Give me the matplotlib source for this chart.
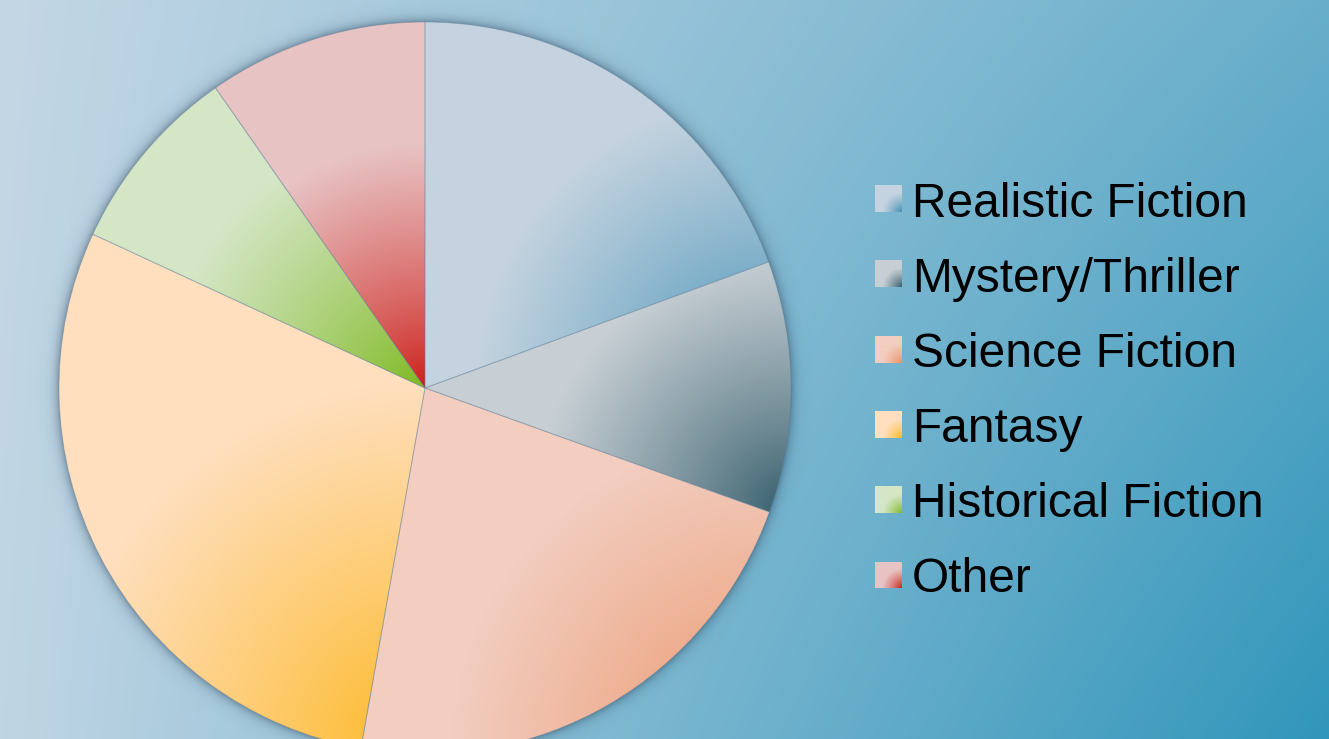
import numpy as np
import matplotlib
matplotlib.use("Agg")
import matplotlib.pyplot as plt
from matplotlib.colors import to_rgb

# chart data
genres = ["Realistic Fiction", "Mystery/Thriller", "Science Fiction",
          "Fantasy", "Historical Fiction", "Other"]
shares = [19.4, 11.1, 22.3, 29.1, 8.4, 9.7]
light_colors = ["#c4d3df", "#c7cfd4", "#f2cdc0", "#ffdfbe", "#d5e6c7", "#e8c3c4"]
dark_colors = ["#3a8db5", "#2d5766", "#eb8f5e", "#fdb515", "#7bb81a", "#cc1a14"]

W, H = 1329, 739
fig = plt.figure(figsize=(W / 100, H / 100), dpi=100)
ax = fig.add_axes([0, 0, 1, 1])


def corner_gradient(light, dark, dist, reach):
    # dark at the corner, fading to light further out
    t = np.clip(dist / reach, 0, 1)[..., None] ** 0.8
    lo, hi = np.array(to_rgb(dark)), np.array(to_rgb(light))
    return lo + (hi - lo) * t


# background: bilinear blend of corner weights
bg_a, bg_b = np.array(to_rgb("#c4d7e5")), np.array(to_rgb("#3196bb"))
u = np.linspace(0, 1, 400)[None, :]
v = np.linspace(0, 1, 240)[:, None]  # 0 = top
w_tl, w_tr, w_bl, w_br = 0.0, 0.62, 0.03, 1.0
t = (w_tl * (1 - u) * (1 - v) + w_tr * u * (1 - v)
     + w_bl * (1 - u) * v + w_br * u * v)
bg = bg_a + (bg_b - bg_a) * t[..., None]
ax.imshow(bg, extent=(0, W, 0, H), origin="upper", aspect="auto", zorder=0)

# pie
cx, cy, R = 425, H - 388, 366
wedges, _ = ax.pie(shares, startangle=90, counterclock=False, radius=R,
                   center=(cx, cy), frame=True,
                   wedgeprops=dict(linewidth=0.7,
                                   edgecolor=(0.4, 0.5, 0.6, 0.35),
                                   facecolor="none", zorder=3))

# soft shadow round the pie
gx, gy = np.meshgrid(np.arange(cx - R - 30, cx + R + 30),
                     np.arange(cy - R - 30, cy + R + 30))
d = np.hypot(gx + 0.5 - cx, gy + 0.5 - cy)
shadow = np.zeros(d.shape + (4,))
shadow[..., :3] = (0.12, 0.22, 0.32)
shadow[..., 3] = np.where(d >= R - 1, 0.4 * np.exp(-(d - R) / 5.0), 0)
ax.imshow(shadow, extent=(cx - R - 30, cx + R + 30, cy - R - 30, cy + R + 30),
          origin="lower", zorder=1)

# gradient fill per wedge, dark at the lower right corner of its box
px, py = np.meshgrid(np.arange(cx - R, cx + R), np.arange(cy - R, cy + R))
for wedge, lc, dc in zip(wedges, light_colors, dark_colors):
    th = np.radians(np.linspace(wedge.theta1, wedge.theta2, 200))
    xs = np.concatenate([[cx], cx + R * np.cos(th)])
    ys = np.concatenate([[cy], cy + R * np.sin(th)])
    x1, y0 = xs.max(), ys.min()
    diag = np.hypot(xs.max() - xs.min(), ys.max() - ys.min())
    dist = np.hypot(px + 0.5 - x1, py + 0.5 - y0)
    img = corner_gradient(lc, dc, dist, 0.58 * diag)
    im = ax.imshow(img, extent=(cx - R, cx + R, cy - R, cy + R),
                   origin="lower", zorder=2)
    im.set_clip_path(wedge)

ax.set_xlim(0, W)
ax.set_ylim(0, H)
ax.set_aspect("auto")
ax.axis("off")

# legend: gradient squares and labels
sq = 27
for i, (name, lc, dc) in enumerate(zip(genres, light_colors, dark_colors)):
    top = 185 + i * 75.3
    lax = fig.add_axes([875 / W, 1 - (top + sq) / H, sq / W, sq / H])
    sx, sy = np.meshgrid(np.arange(sq) + 0.5, np.arange(sq) + 0.5)
    dist = np.hypot(sx - sq, sy - sq)
    lax.imshow(corner_gradient(lc, dc, dist, 0.5 * sq * np.sqrt(2)),
               origin="upper", aspect="auto")
    lax.axis("off")
    fig.text(912 / W, 1 - (217 + i * 75) / H, name, fontsize=34.5,
             family="Liberation Sans", color="black", va="baseline", ha="left")

fig.savefig("out.png", dpi=100)
